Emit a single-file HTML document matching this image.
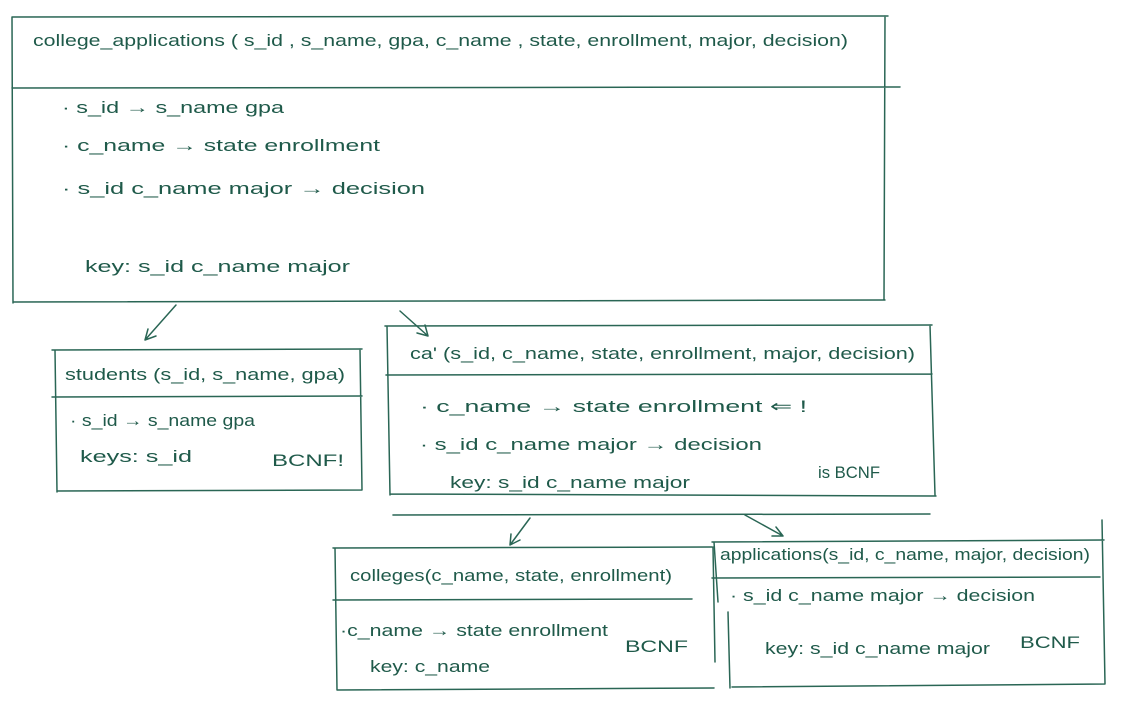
<!DOCTYPE html>
<html><head><meta charset="utf-8"><style>
body{margin:0;background:#fff}
svg text{font-family:"Liberation Sans",sans-serif;fill:#1f5a4a;font-size:17px}
</style></head><body>
<svg width="1122" height="702" viewBox="0 0 1122 702" xmlns="http://www.w3.org/2000/svg">
<g stroke="#2a6655" stroke-width="1.5" fill="none" stroke-linecap="round">
<path d="M12 17 L888 16 M12 17 L13 303 M885 16 L884 300 M12 88 L900 87 M13 302 L885 300"/>
<path d="M176 305 L145 340 M145 340 L148 329 M145 340 L156 336"/>
<path d="M400 311 L428 336 M428 336 L417 333 M428 336 L425 325"/>
<path d="M52 350 L362 349 M55 350 L57 492 M360 349 L362 490 M52 397 L362 396 M57 491 L362 490"/>
<path d="M385 326 L932 325 M387 326 L390 495 M930 325 L935 495 M386 375 L932 374 M390 494 L936 496 M393 515 L930 514"/>
<path d="M530 518 L510 545 M510 545 L511 534 M510 545 L520 540"/>
<path d="M745 515 L783 536 M783 536 L772 536 M783 536 L776 527"/>
<path d="M333 548 L712 547 M335 548 L337 690 M713 547 L715 662 M333 600 L692 599 M337 690 L714 688"/>
<path d="M712 542 L1104 540 M714 542 L718 602 M1102 520 L1105 684 M712 578 L1100 577 M732 687 L1105 684 M728 612 L730 688"/>
</g>
<text x="33" y="46" font-size="19" textLength="815" lengthAdjust="spacingAndGlyphs">college_applications ( s_id , s_name, gpa, c_name , state, enrollment, major, decision)</text>
<text x="62" y="113" textLength="222" lengthAdjust="spacingAndGlyphs">·  s_id → s_name  gpa</text>
<text x="62" y="151" textLength="318" lengthAdjust="spacingAndGlyphs">·  c_name → state  enrollment</text>
<text x="62" y="194" textLength="363" lengthAdjust="spacingAndGlyphs">·  s_id  c_name  major   → decision</text>
<text x="85" y="272" textLength="265" lengthAdjust="spacingAndGlyphs">key:  s_id  c_name  major</text>
<text x="65" y="380" textLength="280" lengthAdjust="spacingAndGlyphs">students  (s_id, s_name, gpa)</text>
<text x="70" y="426" font-size="16" textLength="185" lengthAdjust="spacingAndGlyphs">·  s_id → s_name  gpa</text>
<text x="80" y="462" font-size="16" textLength="112" lengthAdjust="spacingAndGlyphs">keys:  s_id</text>
<text x="272" y="466" font-size="18" textLength="72" lengthAdjust="spacingAndGlyphs">BCNF!</text>
<text x="410" y="359" font-size="18" textLength="505" lengthAdjust="spacingAndGlyphs">ca' (s_id, c_name, state, enrollment, major, decision)</text>
<text x="420" y="412" textLength="387" lengthAdjust="spacingAndGlyphs">·  c_name → state enrollment       ⇐ !</text>
<text x="420" y="450" textLength="342" lengthAdjust="spacingAndGlyphs">·  s_id  c_name  major  → decision</text>
<text x="450" y="488" font-size="16" textLength="240" lengthAdjust="spacingAndGlyphs">key:  s_id  c_name  major</text>
<text x="818" y="478" font-size="18" textLength="62" lengthAdjust="spacingAndGlyphs">is BCNF</text>
<text x="350" y="581" textLength="322" lengthAdjust="spacingAndGlyphs">colleges(c_name, state, enrollment)</text>
<text x="340" y="636" font-size="16" textLength="268" lengthAdjust="spacingAndGlyphs">·c_name → state  enrollment</text>
<text x="370" y="672" font-size="16" textLength="120" lengthAdjust="spacingAndGlyphs">key:  c_name</text>
<text x="625" y="652" font-size="18" textLength="63" lengthAdjust="spacingAndGlyphs">BCNF</text>
<text x="720" y="560" font-size="16" textLength="370" lengthAdjust="spacingAndGlyphs">applications(s_id, c_name, major, decision)</text>
<text x="730" y="601" font-size="16" textLength="305" lengthAdjust="spacingAndGlyphs">·  s_id  c_name  major  → decision</text>
<text x="765" y="654" font-size="16" textLength="225" lengthAdjust="spacingAndGlyphs">key:  s_id  c_name  major</text>
<text x="1020" y="648" font-size="18" textLength="60" lengthAdjust="spacingAndGlyphs">BCNF</text>
</svg>
</body></html>
